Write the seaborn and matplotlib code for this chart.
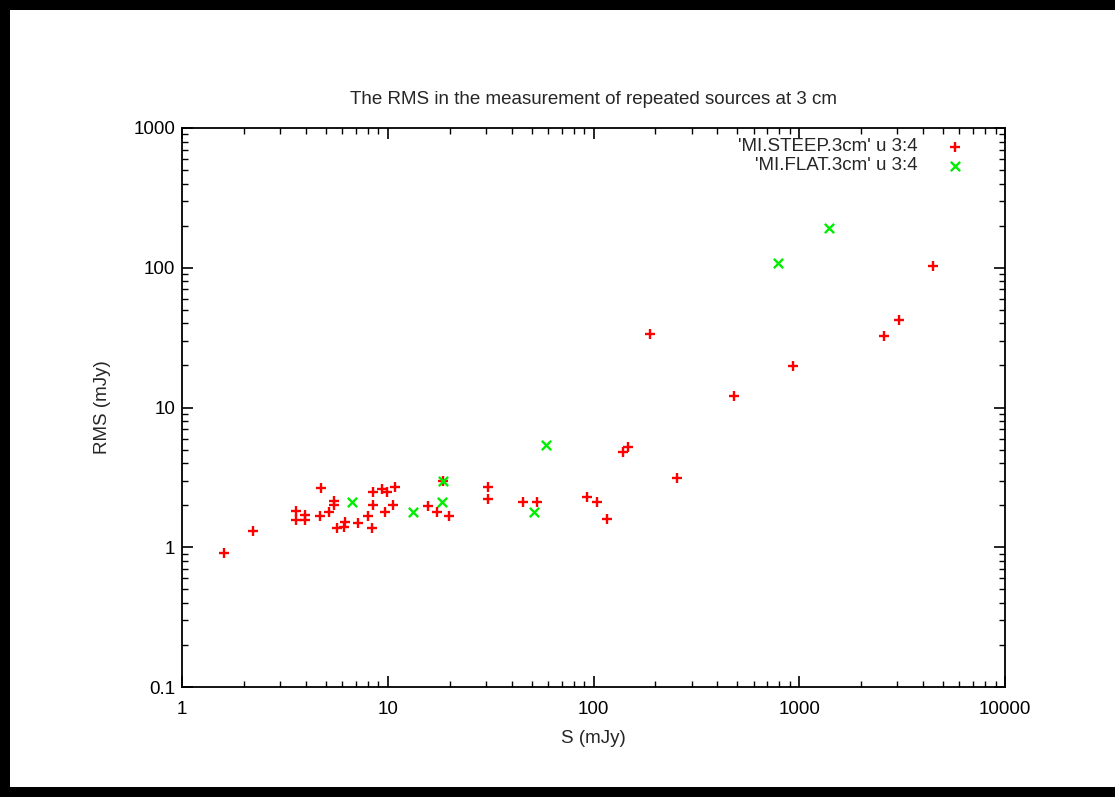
import matplotlib
matplotlib.use("Agg")
import matplotlib.pyplot as plt
from matplotlib.ticker import LogLocator, FixedLocator, NullFormatter
from matplotlib.patches import Rectangle
import seaborn as sns
import numpy as np
import pandas as pd

# Steep-spectrum sources: flux density S (mJy) and RMS (mJy)
steep_s = [1.6, 2.21, 3.58, 3.58, 3.96, 3.96, 4.72, 4.68, 5.2, 5.5, 5.5, 5.65,
           6.13, 6.2, 7.19, 8.36, 8.05, 8.45, 9.7, 10.6, 8.5, 9.35, 9.9, 10.8,
           15.7, 17.3, 19.8, 18.5, 30.8, 30.8, 45.3, 53.0, 93.3, 103.7, 116.0,
           138.7, 147.6, 188.0, 253.7, 483.0, 929.0, 2590.0, 3055.0, 4454.0]
steep_rms = [0.91, 1.31, 1.82, 1.57, 1.70, 1.57, 2.67, 1.67, 1.80, 2.14, 2.0, 1.37,
             1.39, 1.52, 1.50, 1.37, 1.68, 2.0, 1.80, 2.0, 2.5, 2.6, 2.5, 2.69,
             1.97, 1.80, 1.68, 2.99, 2.69, 2.20, 2.12, 2.12, 2.27, 2.12, 1.58,
             4.83, 5.19, 33.6, 3.11, 12.1, 19.8, 32.5, 42.3, 103.0]

# Flat-spectrum sources
flat_s = [6.68, 13.2, 18.3, 18.5, 51.4, 58.8, 786.0, 1396.0]
flat_rms = [2.10, 1.80, 2.12, 2.99, 1.80, 5.39, 109.0, 193.5]

steep_label = "'MI.STEEP.3cm' u 3:4"
flat_label = "'MI.FLAT.3cm' u 3:4"
x_ticks = [1, 10, 100, 1000, 10000]
x_ticklabels = ["1", "10", "100", "1000", "10000"]
y_ticks = [0.1, 1, 10, 100, 1000]
y_ticklabels = ["0.1", "1", "10", "100", "1000"]

sns.set_theme(style="white")
plt.rcParams["font.family"] = ["Liberation Sans", "DejaVu Sans"]

FS = 13.5

fig = plt.figure(figsize=(11.15, 7.97), dpi=100)
ax = fig.add_axes([182 / 1115, 1 - 687 / 797, (1005 - 182) / 1115, (687 - 128) / 797])

steep = pd.DataFrame({"S": steep_s, "RMS": steep_rms})
flat = pd.DataFrame({"S": flat_s, "RMS": flat_rms})

sns.scatterplot(data=steep, x="S", y="RMS", marker="+", color="#ff0000",
                s=60, linewidth=1.7, label=steep_label, ax=ax, zorder=3)
sns.scatterplot(data=flat, x="S", y="RMS", marker="x", color="#00ee00",
                s=45, linewidth=1.7, label=flat_label, ax=ax, zorder=3)

ax.set_xscale("log")
ax.set_yscale("log")
ax.set_xlim(1, 10000)
ax.set_ylim(0.1, 1000)

ax.xaxis.set_major_locator(FixedLocator(x_ticks))
ax.set_xticklabels(x_ticklabels)
ax.yaxis.set_major_locator(FixedLocator(y_ticks))
ax.set_yticklabels(y_ticklabels)
ax.xaxis.set_minor_locator(LogLocator(base=10, subs=np.arange(2, 10)))
ax.yaxis.set_minor_locator(LogLocator(base=10, subs=np.arange(2, 10)))
ax.xaxis.set_minor_formatter(NullFormatter())
ax.yaxis.set_minor_formatter(NullFormatter())

ax.tick_params(which="both", direction="in", top=True, right=True,
               bottom=True, left=True, colors="black", labelsize=FS)
ax.tick_params(which="major", length=8, width=1.2)
ax.tick_params(which="minor", length=4, width=1.0)
ax.tick_params(axis="y", which="major", pad=5)
ax.tick_params(axis="x", which="major", pad=10)

for sp in ax.spines.values():
    sp.set_color("black")
    sp.set_linewidth(1.3)

ax.set_xlabel("S (mJy)", fontsize=FS, labelpad=9)
ax.set_ylabel("RMS (mJy)", fontsize=FS, labelpad=16)
ax.set_title("The RMS in the measurement of repeated sources at 3 cm",
             fontsize=FS, pad=17)

leg = ax.legend(loc="upper right", markerfirst=False, frameon=False,
                fontsize=FS, handletextpad=1.0, borderaxespad=0.3,
                labelspacing=0.1, bbox_to_anchor=(0.978, 1.005))

# Dark frame around the canvas
for rect in [(0, 0, 10 / 1115, 1), (0, 1 - 10 / 797, 1, 10 / 797),
             (0, 0, 1, 10 / 797)]:
    fig.patches.append(Rectangle(rect[:2], rect[2], rect[3], transform=fig.transFigure,
                                 facecolor="black", edgecolor="none", zorder=10))

fig.savefig("out.png", dpi=100, facecolor="white")
